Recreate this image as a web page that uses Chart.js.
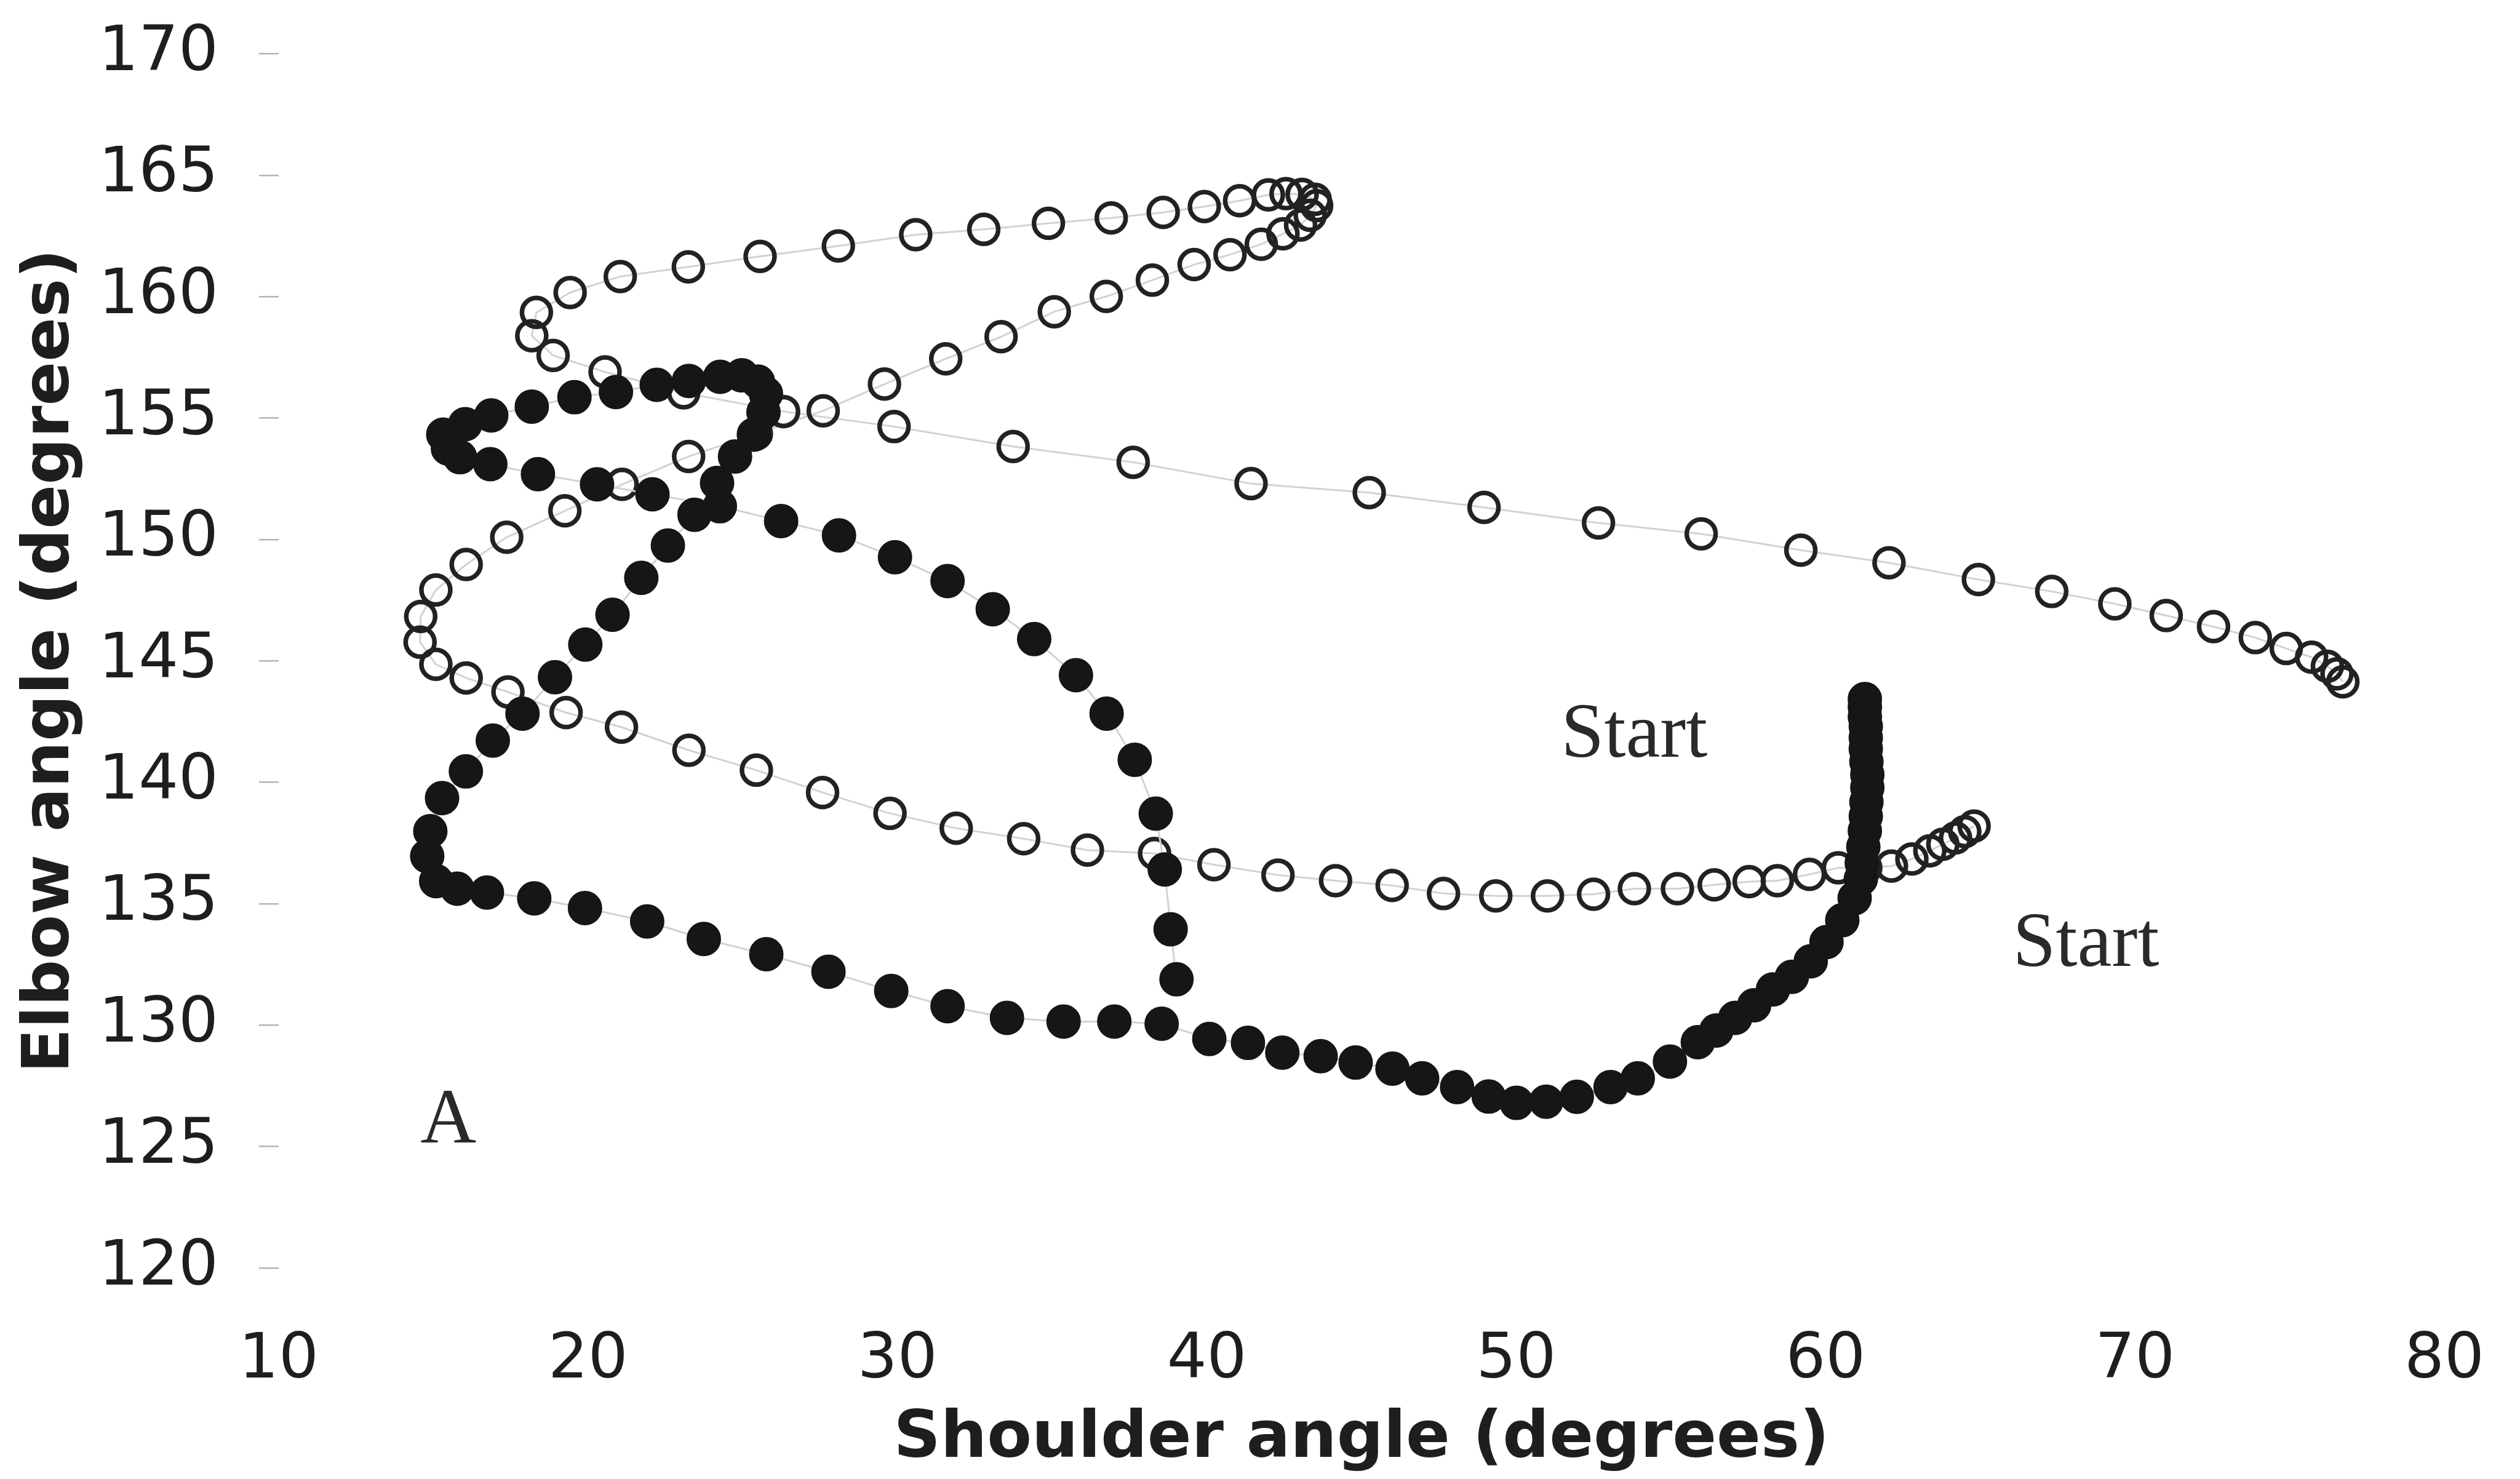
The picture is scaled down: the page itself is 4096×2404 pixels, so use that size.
<!DOCTYPE html>
<html>
<head>
<meta charset="utf-8">
<title>Shoulder vs elbow angle</title>
<script src="https://cdn.jsdelivr.net/npm/chart.js@4.4.1/dist/chart.umd.min.js"></script>
<style>
  html, body { margin: 0; padding: 0; background: #ffffff; }
  #wrap { width: 4096px; height: 2404px; }
</style>
</head>
<body>
<div id="wrap"><canvas id="jointChart" width="4096" height="2404"></canvas></div>
<script>
// Open-circle trial: shoulder / elbow angle pairs, in recording order
const openShoulder = [
    64.80, 64.50, 64.20, 63.79, 63.37, 62.79, 62.13, 61.30, 60.41, 59.48,
    58.44, 57.53, 56.40, 55.21, 53.82, 52.50, 51.01, 49.34, 47.65, 45.99,
    44.16, 42.30, 40.23, 38.31, 36.14, 34.08, 31.90, 29.76, 27.58, 25.44,
    23.26, 21.08, 19.29, 17.41, 16.06, 15.08, 14.57, 14.59, 15.08, 16.06,
    17.37, 19.25, 21.10, 23.25, 25.44, 27.60, 29.58, 31.56, 33.35, 35.07,
    36.75, 38.24, 39.59, 40.75, 41.76, 42.46, 43.03, 43.34, 43.55, 43.50,
    43.08, 42.56, 41.99, 41.06, 39.92, 38.59, 36.91, 34.88, 32.79, 30.59,
    28.09, 25.56, 23.24, 21.04, 19.42, 18.33, 18.18, 18.87, 20.55, 23.09,
    26.32, 29.89, 33.74, 37.62, 41.43, 45.25, 48.96, 52.66, 55.98, 59.20,
    62.05, 64.94, 67.31, 69.35, 71.01, 72.54, 73.89, 74.89, 75.71, 76.22,
    76.53, 76.72
];
const openElbow = [
    138.20, 137.97, 137.71, 137.45, 137.18, 136.84, 136.55, 136.48, 136.48, 136.21,
    135.95, 135.91, 135.78, 135.62, 135.62, 135.39, 135.32, 135.32, 135.42, 135.75,
    135.95, 136.18, 136.61, 137.07, 137.21, 137.68, 138.11, 138.72, 139.58, 140.50,
    141.32, 142.27, 142.87, 143.72, 144.30, 144.86, 145.77, 146.83, 147.92, 148.97,
    150.09, 151.18, 152.27, 153.42, 154.35, 155.30, 156.40, 157.44, 158.35, 159.38,
    160.01, 160.68, 161.32, 161.73, 162.16, 162.59, 162.95, 163.35, 163.75, 164.01,
    164.21, 164.24, 164.19, 163.95, 163.71, 163.47, 163.24, 163.02, 162.77, 162.55,
    162.09, 161.66, 161.23, 160.83, 160.17, 159.35, 158.39, 157.58, 156.90, 156.04,
    155.27, 154.65, 153.83, 153.18, 152.30, 151.93, 151.32, 150.68, 150.23, 149.56,
    149.04, 148.35, 147.86, 147.35, 146.87, 146.41, 145.96, 145.51, 145.15, 144.78,
    144.47, 144.14
];

// Filled-circle trial
const filledShoulder = [
    61.27, 61.27, 61.27, 61.30, 61.30, 61.30, 61.32, 61.35, 61.35, 61.32,
    61.30, 61.27, 61.22, 61.17, 61.14, 60.94, 60.54, 60.03, 59.52, 58.91,
    58.30, 57.69, 57.08, 56.47, 55.87, 54.97, 53.93, 53.05, 51.96, 50.97,
    50.01, 49.11, 48.09, 46.96, 46.00, 44.81, 43.68, 42.44, 41.33, 40.08,
    38.54, 37.01, 35.37, 33.54, 31.62, 29.80, 27.77, 25.76, 23.74, 21.91,
    19.90, 18.26, 16.73, 15.77, 15.09, 14.80, 14.90, 15.28, 16.05, 16.92,
    17.88, 18.93, 19.91, 20.79, 21.72, 22.58, 23.44, 24.17, 24.75, 25.36,
    25.67, 25.75, 25.49, 24.97, 24.27, 23.26, 22.22, 20.90, 19.56, 18.18,
    16.87, 16.03, 15.32, 15.47, 15.86, 16.84, 18.38, 20.29, 22.08, 24.26,
    26.24, 28.11, 29.92, 31.62, 33.08, 34.42, 35.77, 36.76, 37.67, 38.35,
    38.64, 38.83, 39.02
];
const filledElbow = [
    143.43, 143.10, 142.70, 142.30, 141.84, 141.38, 140.85, 140.32, 139.79, 139.19,
    138.60, 138.00, 137.34, 136.68, 136.02, 135.23, 134.32, 133.42, 132.63, 131.99,
    131.47, 130.82, 130.30, 129.78, 129.30, 128.50, 127.81, 127.45, 127.05, 126.85,
    126.80, 127.06, 127.45, 127.81, 128.21, 128.46, 128.72, 128.87, 129.27, 129.43,
    130.06, 130.15, 130.15, 130.30, 130.78, 131.41, 132.20, 132.92, 133.55, 134.27,
    134.82, 135.22, 135.46, 135.62, 135.93, 136.96, 137.99, 139.35, 140.45, 141.72,
    142.83, 144.33, 145.67, 146.90, 148.42, 149.75, 151.02, 152.33, 153.42, 154.32,
    155.24, 156.00, 156.50, 156.76, 156.70, 156.53, 156.37, 156.07, 155.86, 155.47,
    155.11, 154.75, 154.32, 153.75, 153.39, 153.10, 152.69, 152.27, 151.86, 151.37,
    150.76, 150.17, 149.27, 148.29, 147.13, 145.90, 144.41, 142.83, 140.93, 138.71,
    136.41, 133.95, 131.89
];

const shoulderTicks = [10, 20, 30, 40, 50, 60, 70, 80];
const elbowTicks = [120, 125, 130, 135, 140, 145, 150, 155, 160, 165, 170];

// Text notes placed in data coordinates (left edge, baseline)
const trialNotes = [
    { text: 'Start', x: 51.45, y: 141.05 },
    { text: 'Start', x: 66.05, y: 132.44 },
    { text: 'A', x: 14.58, y: 125.16 }
];

function toPoints(xs, ys) {
    return xs.map((x, i) => ({ x: x, y: ys[i] }));
}

const tickFont = { family: 'DejaVu Sans', size: 102 };
const titleFont = { family: 'DejaVu Sans', size: 106, weight: 'bold' };
const inkColor = '#1e1e1e';

const notesPlugin = {
    id: 'trialNotes',
    afterDatasetsDraw(chart) {
        const { ctx, scales } = chart;
        ctx.save();
        ctx.font = '126px "Liberation Serif"';
        ctx.fillStyle = '#2a2a2a';
        ctx.textAlign = 'left';
        ctx.textBaseline = 'alphabetic';
        trialNotes.forEach(note => {
            ctx.fillText(note.text, scales.x.getPixelForValue(note.x), scales.y.getPixelForValue(note.y));
        });
        ctx.restore();
    }
};

new Chart(document.getElementById('jointChart'), {
    type: 'scatter',
    data: {
        datasets: [{
            label: 'Filled',
            data: toPoints(filledShoulder, filledElbow),
            showLine: true,
            borderColor: '#d2d2d2',
            borderWidth: 3,
            tension: 0,
            pointRadius: 27,
            pointBorderWidth: 2,
            pointBorderColor: '#161616',
            pointBackgroundColor: '#161616'
        }, {
            label: 'Open',
            data: toPoints(openShoulder, openElbow),
            showLine: true,
            borderColor: '#d2d2d2',
            borderWidth: 3,
            tension: 0,
            pointRadius: 23.5,
            pointBorderWidth: 7.5,
            pointBorderColor: '#222222',
            pointBackgroundColor: 'rgba(255,255,255,0)'
        }]
    },
    options: {
        responsive: false,
        animation: false,
        devicePixelRatio: 1,
        events: [],
        layout: {
            autoPadding: false,
            padding: { top: 87.5, right: 123, bottom: 0, left: 0 }
        },
        plugins: {
            legend: { display: false },
            tooltip: { enabled: false }
        },
        scales: {
            x: {
                type: 'linear',
                min: 10,
                max: 80,
                afterBuildTicks: scale => { scale.ticks = shoulderTicks.map(v => ({ value: v })); },
                afterFit: scale => {
                    scale.height = 343;
                    // edge labels may overhang; the plot area is fixed by layout padding
                    scale.paddingLeft = 0;
                    scale.paddingRight = 0;
                },
                grid: { display: false, drawTicks: false },
                border: { display: false },
                ticks: { font: tickFont, color: inkColor, padding: 90, maxRotation: 0, autoSkip: false },
                title: {
                    display: true,
                    text: 'Shoulder angle (degrees)',
                    font: titleFont,
                    color: inkColor,
                    padding: { top: 0, bottom: 0 }
                }
            },
            y: {
                type: 'linear',
                min: 120,
                max: 170,
                afterBuildTicks: scale => { scale.ticks = elbowTicks.map(v => ({ value: v })); },
                afterFit: scale => {
                    scale.width = 453;
                    scale.paddingTop = 0;
                    scale.paddingBottom = 0;
                },
                grid: { drawOnChartArea: false, drawTicks: true, tickLength: 32, color: '#b4b4b4', lineWidth: 2.5 },
                border: { display: false },
                ticks: { font: tickFont, color: inkColor, padding: 66 },
                title: {
                    display: true,
                    text: 'Elbow angle (degrees)',
                    font: titleFont,
                    color: inkColor,
                    padding: { top: 20, bottom: 0 }
                }
            }
        }
    },
    plugins: [notesPlugin]
});
</script>
</body>
</html>
